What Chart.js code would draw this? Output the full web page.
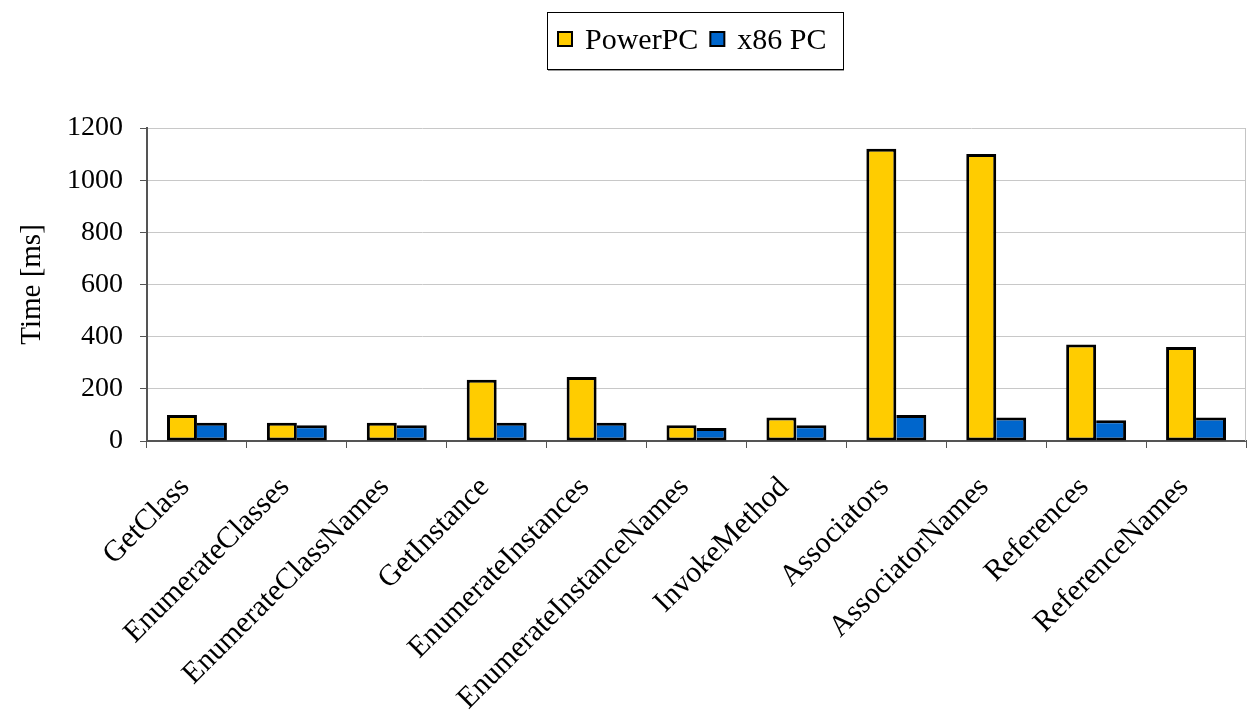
<!DOCTYPE html>
<html>
<head>
<meta charset="utf-8">
<title>CIM operation timings</title>
<script src="https://cdn.jsdelivr.net/npm/chart.js@4.4.1/dist/chart.umd.min.js"></script>
<style>
  html, body { margin: 0; padding: 0; background: #ffffff; }
  #wrap { width: 1250px; height: 721px; }
</style>
</head>
<body>
<div id="wrap"><canvas id="c" width="1250" height="721"></canvas></div>
<script>
// CIM operations measured
const categories = [
  'GetClass', 'EnumerateClasses', 'EnumerateClassNames', 'GetInstance',
  'EnumerateInstances', 'EnumerateInstanceNames', 'InvokeMethod',
  'Associators', 'AssociatorNames', 'References', 'ReferenceNames'
];

// Response time per operation, milliseconds
const powerPC = [100, 70, 70, 235, 245, 60, 90, 1120, 1100, 370, 360];
const x86PC   = [70, 60, 60, 70, 70, 50, 60, 100, 90, 80, 90];

const seriesNames = ['PowerPC', 'x86 PC'];
const yMin = 0;
const yMax = 1200;
const yStep = 200;
const yTitle = 'Time [ms]';

const FONT = '"Liberation Serif", "Times New Roman", serif';
Chart.defaults.font.family = FONT;
Chart.defaults.color = '#000000';

// Light frame line on the right side of the plot area
const plotFrame = {
  id: 'plotFrame',
  beforeDatasetsDraw(chart) {
    const { ctx, chartArea: a } = chart;
    ctx.save();
    ctx.strokeStyle = '#c4c4c4';
    ctx.lineWidth = 1;
    ctx.beginPath();
    ctx.moveTo(a.right - 0.5, a.top);
    ctx.lineTo(a.right - 0.5, a.bottom);
    ctx.stroke();
    ctx.restore();
  }
};

// Boxed legend centred over the plot area
const boxedLegend = {
  id: 'boxedLegend',
  afterDraw(chart) {
    const { ctx, chartArea: a } = chart;
    ctx.save();
    ctx.font = '30px ' + FONT;
    const sq = 14, gapSq = 13, gapItem = 12, padL = 11, padR = 16;
    const items = chart.data.datasets.map(ds => ({
      label: ds.label,
      color: ds.backgroundColor,
      w: ctx.measureText(ds.label).width
    }));
    const total = Math.round(padL + padR +
      items.reduce((s, it) => s + sq + gapSq + it.w, 0) +
      gapItem * (items.length - 1));
    const cx = (a.left + a.right) / 2;
    const left = Math.round(cx - total / 2) - 2;
    const top = 12, h = 57;

    ctx.fillStyle = '#ffffff';
    ctx.fillRect(left, top, total, h);
    ctx.strokeStyle = '#000000';
    ctx.lineWidth = 1;
    ctx.strokeRect(left + 0.5, top + 0.5, total, h);
    ctx.strokeStyle = '#9a9a9a';
    ctx.beginPath();
    ctx.moveTo(left + 1, top + h + 1.5);
    ctx.lineTo(left + total + 1, top + h + 1.5);
    ctx.stroke();

    const cy = top + 27;
    let x = left + padL;
    items.forEach(it => {
      ctx.fillStyle = it.color;
      ctx.fillRect(x, cy - 7, sq, sq);
      ctx.strokeStyle = '#000000';
      ctx.lineWidth = 2;
      ctx.strokeRect(x, cy - 7, sq, sq);
      x += sq + gapSq;
      ctx.fillStyle = '#000000';
      ctx.textBaseline = 'middle';
      ctx.textAlign = 'left';
      ctx.fillText(it.label, x, cy + 2);
      x += it.w + gapItem;
    });
    ctx.restore();
  }
};

const barBorder = 3;

new Chart(document.getElementById('c'), {
  type: 'bar',
  data: {
    labels: categories,
    datasets: [
      {
        label: seriesNames[0],
        data: powerPC,
        backgroundColor: '#FFCC00',
        borderColor: '#000000',
        borderWidth: { top: barBorder, left: barBorder, right: barBorder, bottom: barBorder },
        borderSkipped: false,
        categoryPercentage: 0.6,
        barPercentage: 1.0
      },
      {
        label: seriesNames[1],
        data: x86PC,
        backgroundColor: '#0066CC',
        borderColor: '#000000',
        borderWidth: { top: barBorder, left: 0, right: barBorder, bottom: barBorder },
        borderSkipped: false,
        categoryPercentage: 0.6,
        barPercentage: 1.0
      }
    ]
  },
  options: {
    responsive: false,
    animation: false,
    devicePixelRatio: 1,
    layout: { padding: { top: 128, right: 4, left: 0, bottom: 0 } },
    plugins: {
      legend: { display: false },
      tooltip: { enabled: false }
    },
    scales: {
      x: {
        grid: {
          offset: true,
          drawOnChartArea: false,
          color: '#555555',
          tickColor: '#555555',
          tickLength: 7,
          lineWidth: 1
        },
        border: { color: '#555555', width: 2 },
        ticks: {
          autoSkip: false,
          minRotation: 45,
          maxRotation: 45,
          color: '#000000',
          font: { size: 30 },
          padding: 22,
          labelOffset: -12
        },
        afterFit(scale) { scale.height = 280; }
      },
      y: {
        min: yMin,
        max: yMax,
        ticks: {
          stepSize: yStep,
          color: '#000000',
          font: { size: 28 },
          padding: 17,
          callback: (v) => String(v)
        },
        grid: {
          color: '#c8c8c8',
          tickColor: '#555555',
          tickLength: 7,
          lineWidth: 1
        },
        border: { color: '#555555', width: 2 },
        title: {
          display: true,
          text: yTitle,
          color: '#000000',
          font: { size: 29 },
          padding: { top: 15, bottom: 0 }
        },
        afterFit(scale) { scale.width = 147; }
      }
    }
  },
  plugins: [plotFrame, boxedLegend]
});
</script>
</body>
</html>
